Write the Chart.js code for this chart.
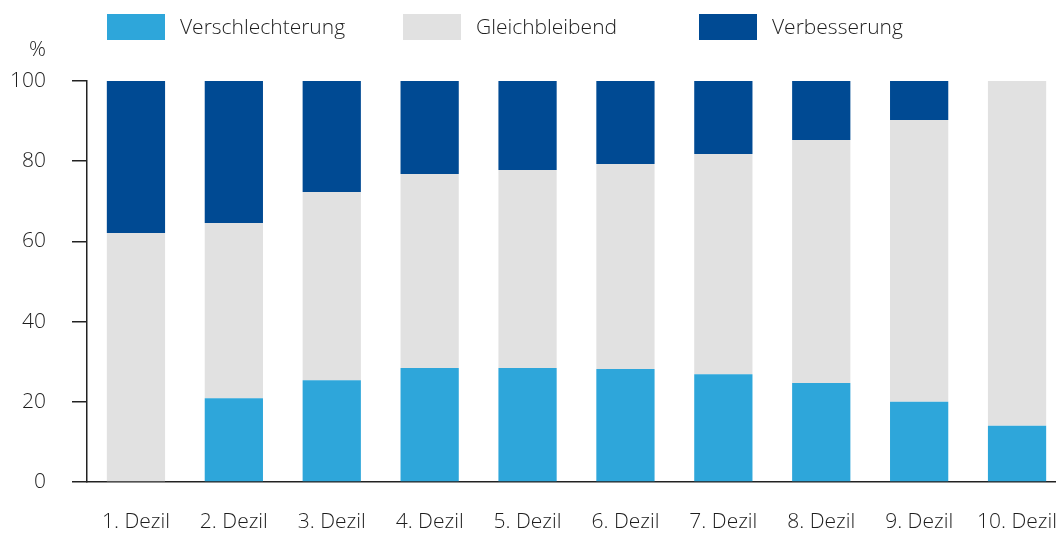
<!DOCTYPE html>
<html>
<head>
<meta charset="utf-8">
<script src="https://cdn.jsdelivr.net/npm/chart.js@4/dist/chart.umd.min.js"></script>
<style>
  html, body { margin: 0; padding: 0; background: #fff; overflow: hidden; }
  #wrap { position: relative; width: 1080px; height: 533px; }
</style>
</head>
<body>
<div id="wrap"><canvas id="chart"></canvas></div>
<script>
const categories = ['1. Dezil', '2. Dezil', '3. Dezil', '4. Dezil', '5. Dezil',
  '6. Dezil', '7. Dezil', '8. Dezil', '9. Dezil', '10. Dezil']
const verschlechterung = [0, 20.9, 25.4, 28.4, 28.4, 28.2, 26.9, 24.7, 20.0, 14.0]
const gleichbleibend = [62.1, 43.7, 46.9, 48.4, 49.4, 51.1, 54.9, 60.6, 70.3, 86.0]
const verbesserung = [37.9, 35.4, 27.7, 23.2, 22.2, 20.7, 18.2, 14.7, 9.7, 0]
const yTicks = [0, 20, 40, 60, 80, 100]
const unitLabel = '%'

const FONT = '"Open Sans", sans-serif'
const TEXT = '#1e1e1e'

// legend with fixed spacing, drawn on the canvas
const topLegend = {
  id: 'topLegend',
  afterDraw(chart) {
    const ctx = chart.ctx
    ctx.save()
    ctx.font = '300 21px ' + FONT
    ctx.textBaseline = 'middle'
    chart.data.datasets.forEach((ds, i) => {
      const x = 107 + i * 296
      ctx.fillStyle = ds.backgroundColor
      ctx.fillRect(x, 14, 58, 26)
      ctx.fillStyle = TEXT
      ctx.fillText(ds.label, x + 73, 28)
    })
    // unit above the y axis
    ctx.textAlign = 'right'
    ctx.fillText(unitLabel, 46, 50)
    ctx.restore()
  }
}

new Chart(document.getElementById('chart'), {
  type: 'bar',
  data: {
    labels: categories,
    datasets: [
      { label: 'Verschlechterung', data: verschlechterung, backgroundColor: '#2ea6da' },
      { label: 'Gleichbleibend', data: gleichbleibend, backgroundColor: '#e1e1e1' },
      { label: 'Verbesserung', data: verbesserung, backgroundColor: '#004a93' }
    ]
  },
  options: {
    responsive: true,
    maintainAspectRatio: false,
    animation: false,
    layout: { padding: { top: 81, right: 14, bottom: 0, left: 0 } },
    datasets: { bar: { barPercentage: 0.595, categoryPercentage: 1 } },
    plugins: { legend: { display: false }, tooltip: { enabled: false } },
    scales: {
      x: {
        stacked: true,
        grid: { display: false, drawTicks: false },
        border: { display: true, color: '#222', width: 1.5 },
        ticks: { color: TEXT, font: { family: FONT, size: 21, weight: 300 }, padding: 27, maxRotation: 0 },
        afterFit(scale) {
          scale.height = 51
          // last label may run off the edge, like in the original
          scale.paddingLeft = 0
          scale.paddingRight = 0
        }
      },
      y: {
        stacked: true,
        min: 0,
        max: 100,
        afterBuildTicks(scale) { scale.ticks = yTicks.map(v => ({ value: v })) },
        grid: { drawOnChartArea: false, drawTicks: true, tickLength: 15, color: '#222', lineWidth: 1.5 },
        border: { display: true, color: '#222', width: 1.5 },
        ticks: { color: TEXT, font: { family: FONT, size: 21, weight: 300 }, padding: 26 },
        afterFit(scale) { scale.width = 87 }
      }
    }
  },
  plugins: [topLegend]
})
</script>
</body>
</html>
